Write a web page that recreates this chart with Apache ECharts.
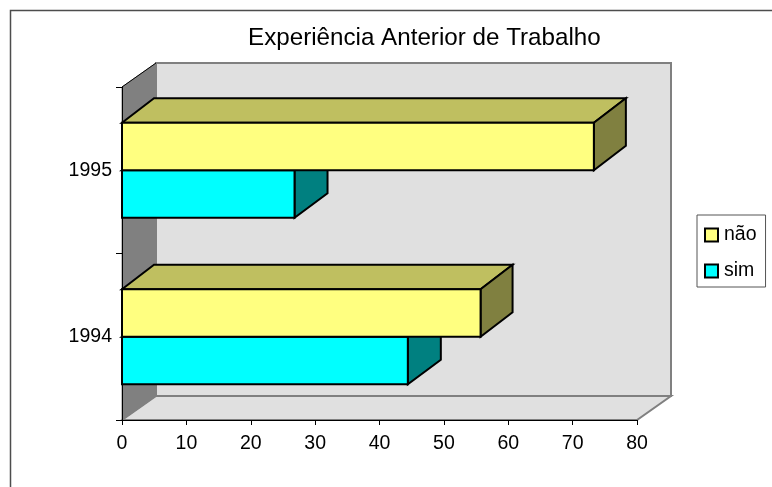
<!DOCTYPE html>
<html>
<head>
<meta charset="utf-8">
<style>html,body{margin:0;padding:0;background:#fff}#c{width:772px;height:487px}</style>
<script src="https://cdn.jsdelivr.net/npm/echarts@6/dist/echarts.min.js"></script>
</head>
<body>
<div id="c"></div>
<script>
const categories = ['1994', '1995'];
const naoValues = [55.7, 73.3];
const simValues = [44.4, 26.8];
const xTicks = { min: 0, max: 80, interval: 10 };

// Oblique offsets used to fake the 3D depth of walls and bars
const WALL_DX = 34, WALL_DY = -24;
const NAO_DX = 32, SIM_DX = 33, BAR_DY = -24.5;
const FONT = '"Liberation Sans", Arial, sans-serif';

function poly(points, fill, stroke, lineWidth) {
  return { type: 'polygon', shape: { points }, style: { fill, stroke, lineWidth, lineJoin: 'miter' } };
}

// Back wall, left wall and floor, sized from the grid rectangle
function renderWalls(params) {
  const g = params.coordSys;
  const x0 = g.x, x1 = g.x + g.width, y0 = g.y, y1 = g.y + g.height;
  const dx = WALL_DX, dy = WALL_DY;
  return {
    type: 'group',
    children: [
      poly([[x0 + dx, y0 + dy], [x1 + dx, y0 + dy], [x1 + dx, y1 + dy], [x0 + dx, y1 + dy]], '#e0e0e0', '#808080', 2),
      poly([[x0, y1], [x0 + dx, y1 + dy], [x1 + dx, y1 + dy], [x1, y1]], '#e0e0e0', '#808080', 2),
      poly([[x0, y0], [x0 + dx, y0 + dy], [x0 + dx, y1 + dy], [x0, y1]], '#808080', '#808080', 1),
      { type: 'line', shape: { x1: x0, y1: y0, x2: x0 + dx, y2: y0 + dy }, style: { stroke: '#000', lineWidth: 1 } }
    ]
  };
}

// One oblique bar: side -1 sits below the band centre, +1 above it
function barRenderer(side, depthX, front, topFace, sideFace) {
  return function (params, api) {
    const val = api.value(0);
    const cat = api.value(1);
    const start = api.coord([0, cat]);
    const end = api.coord([val, cat]);
    const h = api.size([0, 1])[1] * 0.285;
    const cy = start[1];
    const yA = side > 0 ? cy - h : cy;
    const yB = side > 0 ? cy : cy + h;
    const x0 = start[0], x1 = end[0];
    const stroke = '#000', lw = 2;
    return {
      type: 'group',
      children: [
        poly([[x0, yA], [x0 + depthX, yA + BAR_DY], [x1 + depthX, yA + BAR_DY], [x1, yA]], topFace, stroke, lw),
        poly([[x1, yA], [x1 + depthX, yA + BAR_DY], [x1 + depthX, yB + BAR_DY], [x1, yB]], sideFace, stroke, lw),
        poly([[x0, yA], [x1, yA], [x1, yB], [x0, yB]], front, stroke, lw)
      ]
    };
  };
}

const chart = echarts.init(document.getElementById('c'), null, { renderer: 'canvas' });
chart.setOption({
  animation: false,
  backgroundColor: '#fff',
  title: {
    text: 'Experiência Anterior de Trabalho',
    left: 243,
    top: 21,
    textStyle: { fontFamily: FONT, fontSize: 24.2, fontWeight: 'normal', color: '#000' }
  },
  legend: {
    orient: 'vertical',
    left: 697,
    top: 215,
    padding: [10, 9, 6, 7],
    itemWidth: 13,
    itemHeight: 13,
    itemGap: 16,
    backgroundColor: '#fff',
    borderColor: '#555',
    borderWidth: 1,
    textStyle: { fontFamily: FONT, fontSize: 19.5, color: '#000', padding: [0, 0, 5, 1] },
    data: [
      { name: 'não', icon: 'rect', itemStyle: { color: '#ffff80', borderColor: '#000', borderWidth: 2 } },
      { name: 'sim', icon: 'rect', itemStyle: { color: '#00ffff', borderColor: '#000', borderWidth: 2 } }
    ]
  },
  grid: { left: 122, right: 135, top: 87, bottom: 67 },
  xAxis: {
    type: 'value',
    min: xTicks.min,
    max: xTicks.max,
    interval: xTicks.interval,
    splitLine: { show: false },
    axisLine: { show: true, lineStyle: { color: '#000', width: 1 } },
    axisTick: { show: true, length: 5, lineStyle: { color: '#000' } },
    axisLabel: { fontFamily: FONT, fontSize: 19.5, color: '#000', margin: 14 }
  },
  yAxis: {
    type: 'category',
    data: categories,
    axisLine: { show: true, lineStyle: { color: '#000', width: 1 } },
    axisTick: { show: true, length: 6, lineStyle: { color: '#000' } },
    axisLabel: { fontFamily: FONT, fontSize: 19.5, color: '#000', margin: 10, padding: [0, 0, 4, 0] }
  },
  series: [
    { type: 'custom', name: 'walls', z: -1, silent: true, data: [[0, 0]], renderItem: renderWalls, encode: { x: 0, y: 1 } },
    {
      type: 'custom', name: 'sim', z: 3, itemStyle: { color: '#00ffff' },
      encode: { x: 0, y: 1 },
      data: simValues.map((v, i) => [v, i]),
      renderItem: barRenderer(-1, SIM_DX, '#00ffff', '#00bfbf', '#008080')
    },
    {
      type: 'custom', name: 'não', z: 4, itemStyle: { color: '#ffff80' },
      encode: { x: 0, y: 1 },
      data: naoValues.map((v, i) => [v, i]),
      renderItem: barRenderer(1, NAO_DX, '#ffff80', '#bfbf60', '#808040')
    }
  ],
  // Chart-area frame, running off the right and bottom of the page
  graphic: [{
    type: 'rect',
    z: -10,
    silent: true,
    shape: { x: 10.5, y: 10.5, width: 800, height: 520 },
    style: { fill: 'none', stroke: '#4d4d4d', lineWidth: 1.5 }
  }]
});
</script>
</body>
</html>
